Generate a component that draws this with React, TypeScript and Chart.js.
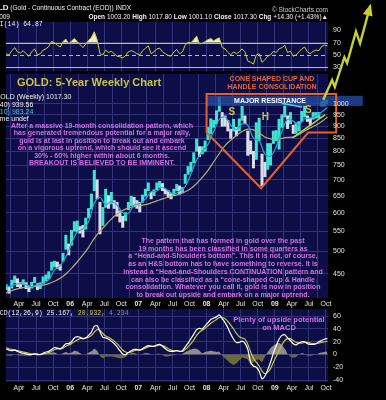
import React, { useEffect, useRef } from "react";
import { Chart, registerables } from "chart.js";

Chart.register(...registerables);

// ---------------- data (semi-monthly periods, first = 2nd half of Jan 2005) ----------------
const firstYear = 2005;

const priceLow = [
  418, 411, 421, 432, 424, 421, 428, 420, 414, 421, 432, 418, 420, 430, 436, 440, 458, 465, 462, 458, 478, 505, 492,
  515, 550, 548, 545, 535, 555, 585, 610, 665, 640, 543, 565, 615, 612, 625, 612, 590, 574, 560, 578, 608, 620, 620, 612,
  602, 630, 648, 665, 640, 650, 668, 675, 665, 655, 645, 640, 650, 665, 655, 660, 688, 718, 728, 758, 800, 780, 790, 800,
  845, 868, 895, 910, 965, 900, 900, 880, 850, 880, 860, 880, 925, 910, 785, 790, 740, 770, 840, 681, 710, 735, 750, 830,
  840, 808, 895, 940, 890, 910, 870, 870, 880, 920, 940, 920, 905, 930, 935, 935, 990, 990, 1001,
];
const priceHigh = [
  428, 423, 437, 446, 440, 432, 438, 432, 424, 433, 443, 430, 432, 444, 448, 455, 476, 478, 476, 470, 496, 540, 518,
  552, 575, 577, 562, 565, 585, 612, 655, 732, 700, 630, 615, 670, 650, 660, 635, 630, 605, 590, 600, 630, 648, 645, 635,
  630, 652, 670, 690, 660, 668, 690, 695, 688, 670, 665, 656, 670, 685, 680, 675, 718, 745, 760, 795, 848, 818, 818, 840,
  895, 932, 925, 968, 1033, 960, 945, 925, 888, 930, 895, 932, 988, 945, 880, 840, 800, 915, 935, 790, 760, 830, 830, 880,
  882, 930, 950, 1005, 945, 960, 905, 915, 920, 965, 990, 945, 935, 960, 960, 960, 1012, 1020, 1018,
];
const rsi14 = [
  52, 50, 57, 62, 55, 53, 57, 52, 48, 55, 60, 50, 52, 58, 60, 64, 72, 70, 66, 63, 72, 76, 68,
  73, 77, 72, 67, 62, 68, 74, 79, 88, 75, 52, 50, 58, 54, 56, 52, 48, 47, 45, 49, 55, 57, 55, 52,
  50, 57, 61, 65, 52, 55, 60, 61, 55, 52, 49, 48, 55, 59, 52, 55, 66, 71, 70, 75, 81, 68, 69, 72,
  75, 77, 73, 76, 78, 62, 60, 54, 50, 55, 52, 55, 60, 55, 40, 38, 35, 50, 52, 38, 42, 48, 50, 56,
  54, 60, 62, 66, 54, 56, 48, 50, 55, 60, 63, 55, 52, 56, 58, 57, 64, 66, 64.87,
];
const macdLine = [
  9, 7, 6, 7, 5, 3, 2, 1, 0, 0, 1, 0, 0, 2, 4, 5, 8, 11, 10, 9, 12, 17, 17,
  20, 26, 28, 27, 25, 26, 30, 35, 44, 45, 36, 27, 26, 24, 21, 17, 12, 6, 1, 0, 3, 6, 8, 8,
  7, 9, 12, 14, 13, 13, 15, 16, 13, 9, 6, 5, 5, 6, 5, 6, 12, 18, 25, 32, 39, 41, 40, 45,
  50, 55, 57, 59, 62, 56, 50, 42, 32, 24, 19, 19, 21, 18, 8, -12, -18, -20, -26, -38, -34, -24, -12, 2,
  14, 24, 30, 31, 26, 22, 17, 15, 18, 20, 20, 17, 16, 16, 17, 20, 22, 24, 25.167,
];
const macdSignal = [
  11, 9, 8, 7, 6, 5, 4, 3, 2, 1, 1, 1, 0, 1, 2, 3, 5, 8, 9, 9, 10, 13, 15,
  17, 20, 23, 25, 25, 26, 27, 30, 35, 39, 38, 33, 29, 27, 24, 21, 17, 12, 7, 4, 3, 4, 6, 7,
  7, 8, 10, 12, 13, 13, 14, 15, 14, 12, 9, 7, 6, 6, 5, 5, 8, 12, 17, 23, 30, 35, 38, 41,
  45, 49, 52, 55, 58, 58, 56, 52, 46, 40, 33, 28, 26, 24, 16, 4, -6, -12, -18, -26, -30, -28, -22, -12,
  -3, 6, 15, 22, 25, 25, 22, 19, 18, 18, 19, 19, 18, 17, 17, 18, 19, 20, 20.932,
];
const macdHist = [
  -2, -2, -2, 0, -1, -2, -2, -2, -2, -1, 0, -1, 0, 1, 2, 2, 3, 3, 1, 0, 2, 4, 2,
  3, 6, 5, 2, 0, 0, 3, 5, 9, 6, -2, -6, -3, -3, -3, -4, -5, -6, -6, -4, 0, 2, 2, 1,
  0, 1, 2, 2, 0, 0, 1, 1, -1, -3, -3, -2, -1, 0, 0, 1, 4, 6, 8, 9, 9, 6, 2, 4,
  5, 6, 5, 4, 4, -2, -6, -10, -14, -16, -14, -9, -5, -6, -8, -16, -12, -8, -8, -12, -4, 4, 10, 14,
  17, 18, 15, 9, 1, -3, -5, -4, 0, 2, 1, -2, -2, -1, 0, 2, 3, 4, 4.234,
];
// monthly moving averages, Jan 2005 .. Oct 2009
const ma10 = [
  432, 424, 428, 430, 428, 424, 428, 430, 438, 458, 468, 488,
  520, 548, 556, 575, 628, 645, 622, 632, 622, 600, 598, 622,
  626, 640, 662, 664, 676, 664, 655, 664, 678, 720, 768, 800,
  826, 878, 930, 940, 905, 886, 910, 905, 850, 842, 790, 782,
  818, 878, 930, 922, 905, 932, 935, 945, 962, 983.24,
];
const ma40 = [
  410, 414, 418, 421, 423, 424, 425, 427, 430, 435, 441, 450,
  462, 476, 492, 510, 532, 550, 566, 582, 596, 606, 613, 617,
  620, 623, 628, 634, 640, 645, 650, 655, 662, 672, 688, 708,
  732, 762, 792, 822, 843, 862, 878, 888, 885, 872, 856, 848,
  845, 850, 854, 856, 866, 880, 893, 905, 920, 939.56,
];

const monthTickLabels = ["Apr", "Jul", "Oct"];
const yearTickLabels = ["05", "06", "07", "08", "09"];
const priceTicks = [450, 500, 550, 600, 650, 700, 750, 800, 850, 900, 950, 1000];
const rsiTicks = [30, 50, 70, 90];
const rsiSolidLevels = [30, 70];
const rsiDashedLevels = [50];
const macdTicks = [-40, -20, 0, 20, 40, 60];

// annotations (dates in decimal years, prices in $)
const projectionDates = [2009.71, 2009.84, 2009.88, 2010.02, 2010.06, 2010.19, 2010.25, 2010.4];
const projectionPrices = [1019, 1118, 1082, 1244, 1210, 1404, 1328, 1585];
const cone = { left: 2008.0, right: 2009.9, top: 1047, floor: 874, apexDate: 2008.8, apexPrice: 673, riseEnd: 2009.49 };
const resistance = { from: 2008.0, to: 2010.29, top: 1038, bottom: 990, labelDate: 2008.93 };
const handleLine = { d0: 2009.1, p0: 1002, d1: 2009.4, p1: 985 };
const supportLine = { d0: 2009.26, p0: 852, d1: 2009.74, p1: 950 };
const shsLabels = [
  { text: "S", date: 2008.37, price: 959 },
  { text: "H", date: 2008.86, price: 937 },
  { text: "S", date: 2009.49, price: 972 },
];

// ---------------- layout / style ----------------
const FONT = "'Liberation Sans', Arial, sans-serif";
const MONO = "'Liberation Mono', 'DejaVu Sans Mono', monospace";
const X_MIN = 2005.06;
const X_MAX = 2009.78;
const AXIS_W = 58;
const PLOT_BG = "#0d0d47";
const GRID = "#33337a";
const LABEL = "#e2e2e2";
const YG = "#c6cf34";

const halfX = (i: number) => firstYear + (i + 1.5) / 24;
const monthX = (m: number) => firstYear + (m + 0.25) / 12;

function quarterTicks() {
  const t: { value: number; label: string; major: boolean }[] = [];
  yearTickLabels.forEach((yl, k) => {
    t.push({ value: firstYear + k, label: yl, major: true });
    monthTickLabels.forEach((ml, q) => t.push({ value: firstYear + k + (q + 1) / 4, label: ml, major: false }));
  });
  return t.filter((q) => q.value >= X_MIN && q.value <= X_MAX + 1e-9);
}
const QT = quarterTicks();
const findQ = (v: number) => QT.find((q) => Math.abs(q.value - v) < 1e-6);

function xAxis(showLabels: boolean, height: number) {
  return {
    type: "linear",
    min: X_MIN,
    max: X_MAX,
    offset: false,
    afterBuildTicks: (s: any) => {
      s.ticks = QT.map((q) => ({ value: q.value }));
    },
    afterFit: (s: any) => {
      s.height = height;
    },
    grid: { color: GRID, lineWidth: 1, drawTicks: false },
    border: { display: false },
    ticks: {
      display: showLabels,
      autoSkip: false,
      maxRotation: 0,
      padding: 2,
      color: LABEL,
      font: (c: any) => ({ family: FONT, size: 7, weight: findQ(c.tick ? c.tick.value : 0)?.major ? "bold" : "normal" }),
      callback: (v: any) => findQ(Number(v))?.label ?? "",
    },
  };
}

function yAxis(type: string, min: number, max: number, ticks: number[], showGrid: boolean) {
  return {
    type,
    position: "right",
    min,
    max,
    afterBuildTicks: (s: any) => {
      s.ticks = ticks.map((v) => ({ value: v }));
    },
    afterFit: (s: any) => {
      s.width = AXIS_W;
    },
    grid: { display: showGrid, color: GRID, drawTicks: false },
    border: { display: false },
    ticks: {
      autoSkip: false,
      color: LABEL,
      padding: 5,
      z: 1,
      font: { family: FONT, size: 7 },
      callback: (v: any) => String(v),
    },
  };
}

const bgPlugin = {
  id: "plotBg",
  beforeDraw(chart: any) {
    const { ctx, chartArea: a } = chart;
    ctx.save();
    ctx.fillStyle = PLOT_BG;
    ctx.fillRect(a.left, a.top, a.right - a.left, a.bottom - a.top);
    ctx.restore();
  },
};

const rsiLevelsPlugin = {
  id: "rsiLevels",
  beforeDatasetsDraw(chart: any) {
    const { ctx, chartArea: a, scales } = chart;
    const y = scales.y;
    ctx.save();
    ctx.strokeStyle = YG;
    ctx.lineWidth = 1.2;
    const line = (v: number, dash: number[]) => {
      const py = Math.round(y.getPixelForValue(v)) + 0.5;
      ctx.setLineDash(dash);
      ctx.beginPath();
      ctx.moveTo(a.left, py);
      ctx.lineTo(a.right, py);
      ctx.stroke();
    };
    rsiSolidLevels.forEach((v) => line(v, []));
    rsiDashedLevels.forEach((v) => line(v, [4, 3]));
    ctx.restore();
  },
};

const mainAnnotations = {
  id: "mainAnnotations",
  afterDatasetsDraw(chart: any) {
    const { ctx, scales } = chart;
    const X = (d: number) => scales.x.getPixelForValue(d);
    const Y = (p: number) => scales.y.getPixelForValue(p);
    ctx.save();
    // resistance band
    ctx.fillStyle = "rgba(34,72,160,0.82)";
    ctx.fillRect(X(resistance.from), Y(resistance.top), X(resistance.to) - X(resistance.from), Y(resistance.bottom) - Y(resistance.top));
    ctx.fillStyle = "#ffffff";
    ctx.font = `bold 7px ${FONT}`;
    ctx.textAlign = "center";
    ctx.textBaseline = "middle";
    ctx.fillText("MAJOR RESISTANCE", X(resistance.labelDate), (Y(resistance.top) + Y(resistance.bottom)) / 2 + 0.5);
    // cone + box
    ctx.strokeStyle = "#e4622a";
    ctx.lineWidth = 2;
    ctx.lineJoin = "miter";
    ctx.beginPath();
    ctx.moveTo(X(cone.left), Y(cone.floor));
    ctx.lineTo(X(cone.left), Y(cone.top));
    ctx.lineTo(X(cone.right), Y(cone.top));
    ctx.lineTo(X(cone.right), Y(cone.floor));
    ctx.lineTo(X(cone.riseEnd), Y(cone.floor));
    ctx.lineTo(X(cone.apexDate), Y(cone.apexPrice));
    ctx.lineTo(X(cone.left), Y(cone.floor));
    ctx.stroke();
    // handle lines
    ctx.lineWidth = 1.5;
    ctx.strokeStyle = "#46d6e6";
    ctx.beginPath();
    ctx.moveTo(X(handleLine.d0), Y(handleLine.p0));
    ctx.lineTo(X(handleLine.d1), Y(handleLine.p1));
    ctx.stroke();
    ctx.strokeStyle = YG;
    ctx.beginPath();
    ctx.moveTo(X(supportLine.d0), Y(supportLine.p0));
    ctx.lineTo(X(supportLine.d1), Y(supportLine.p1));
    ctx.stroke();
    // S H S
    ctx.fillStyle = "#c9c443";
    ctx.font = `bold 10px ${FONT}`;
    shsLabels.forEach((l) => ctx.fillText(l.text, X(l.date), Y(l.price)));
    ctx.restore();
  },
  afterDraw(chart: any) {
    const { ctx, scales } = chart;
    const pts = projectionDates.map((d, i) => [scales.x.getPixelForValue(d), scales.y.getPixelForValue(projectionPrices[i])]);
    ctx.save();
    ctx.strokeStyle = YG;
    ctx.fillStyle = YG;
    ctx.lineWidth = 2.4;
    ctx.lineJoin = "miter";
    ctx.beginPath();
    pts.forEach((p, i) => (i ? ctx.lineTo(p[0], p[1]) : ctx.moveTo(p[0], p[1])));
    ctx.stroke();
    const [x1, y1] = pts[pts.length - 1];
    const [x0, y0] = pts[pts.length - 2];
    const ang = Math.atan2(y1 - y0, x1 - x0);
    const L = 10, Wd = 5;
    ctx.beginPath();
    ctx.moveTo(x1 + Math.cos(ang) * 2, y1 + Math.sin(ang) * 2);
    ctx.lineTo(x1 - Math.cos(ang) * L + Math.sin(ang) * Wd, y1 - Math.sin(ang) * L - Math.cos(ang) * Wd);
    ctx.lineTo(x1 - Math.cos(ang) * L - Math.sin(ang) * Wd, y1 - Math.sin(ang) * L + Math.cos(ang) * Wd);
    ctx.closePath();
    ctx.fill();
    ctx.restore();
  },
};

const baseOptions = (padding: any) => ({
  responsive: false,
  maintainAspectRatio: false,
  animation: false,
  events: [],
  layout: { padding },
  plugins: { legend: { display: false }, tooltip: { enabled: false } },
});

function rsiConfig(): any {
  return {
    type: "line",
    data: {
      datasets: [
        {
          data: rsi14.map((v, i) => ({ x: halfX(i), y: v })),
          borderColor: YG,
          borderWidth: 1,
          pointRadius: 0,
          tension: 0,
          fill: { target: { value: 70 }, above: "#efeec6", below: "rgba(0,0,0,0)" },
        },
      ],
    },
    options: {
      ...baseOptions({ top: 22, bottom: 6, left: 6, right: 0 }),
      scales: { x: xAxis(false, 0), y: yAxis("linear", 24, 104, rsiTicks, false) },
    },
    plugins: [bgPlugin, rsiLevelsPlugin],
  };
}

function mainConfig(): any {
  const mids = priceLow.map((l, i) => (l + priceHigh[i]) / 2);
  const colors = mids.map((m, i) => (i === 0 || m >= mids[i - 1] ? "#3fe2d2" : "#dcdce8"));
  return {
    type: "bar",
    data: {
      datasets: [
        {
          type: "line",
          data: ma10.map((v, m) => ({ x: monthX(m), y: v })),
          borderColor: "#23a9d8",
          borderWidth: 1.2,
          pointRadius: 0,
          tension: 0.35,
        },
        {
          type: "line",
          data: ma40.map((v, m) => ({ x: monthX(m), y: v })),
          borderColor: "#b4ad74",
          borderWidth: 1.2,
          pointRadius: 0,
          tension: 0.35,
        },
        {
          type: "bar",
          data: priceLow.map((l, i) => ({ x: halfX(i), y: [l, priceHigh[i]] })),
          backgroundColor: colors,
          borderWidth: 0,
          barThickness: 2.4,
          grouped: false,
        },
      ],
    },
    options: {
      ...baseOptions({ top: 74, bottom: 0, left: 6, right: 0 }),
      scales: { x: xAxis(true, 12), y: yAxis("logarithmic", 402, 1150, priceTicks, true) },
    },
    plugins: [bgPlugin, mainAnnotations],
  };
}

function macdConfig(): any {
  return {
    type: "line",
    data: {
      datasets: [
        { data: macdLine.map((v, i) => ({ x: halfX(i), y: v })), borderColor: "#ffffff", borderWidth: 1.2, pointRadius: 0, tension: 0.3 },
        { data: macdSignal.map((v, i) => ({ x: halfX(i), y: v })), borderColor: "#bfc83a", borderWidth: 1.2, pointRadius: 0, tension: 0.3 },
        {
          data: macdHist.map((v, i) => ({ x: halfX(i), y: v })),
          borderColor: "rgba(0,0,0,0)",
          borderWidth: 0,
          pointRadius: 0,
          tension: 0.2,
          fill: { target: { value: 0 }, above: "#8e8e8e", below: "#6c6a3c" },
        },
      ],
    },
    options: {
      ...baseOptions({ top: 9, bottom: 0, left: 6, right: 0 }),
      scales: { x: xAxis(true, 18), y: yAxis("linear", -43, 71, macdTicks, true) },
    },
    plugins: [bgPlugin],
  };
}

const abs = (o: any): React.CSSProperties => ({ position: "absolute", whiteSpace: "nowrap", pointerEvents: "none", ...o });

export default function App() {
  const rsiRef = useRef<HTMLCanvasElement>(null);
  const mainRef = useRef<HTMLCanvasElement>(null);
  const macdRef = useRef<HTMLCanvasElement>(null);

  useEffect(() => {
    document.body.style.margin = "0";
    document.body.style.background = "#000";
    const charts = [
      new Chart(rsiRef.current as HTMLCanvasElement, rsiConfig()),
      new Chart(mainRef.current as HTMLCanvasElement, mainConfig()),
      new Chart(macdRef.current as HTMLCanvasElement, macdConfig()),
    ];
    return () => charts.forEach((c) => c.destroy());
  }, []);

  const magenta = "#d46fe6";
  const para1 = [
    "After a massive 19-month consolidation pattern, which",
    "has generated tremendous potential for a major rally,",
    "gold is at last in position to break out and embark",
    "on a vigorous uptrend, which should see it ascend",
    "30% - 60% higher within about 6 months.",
    "BREAKOUT IS BELIEVED TO BE IMMINENT.",
  ];
  const para2 = [
    "The pattern that has formed in gold over the past",
    "19 months has been classified in some quarters as",
    "a \u201cHead-and-Shoulders bottom\u201d. This it is not, of course,",
    "as an H&S bottom has to have something to reverse. It is",
    "instead a \u201cHead-and-Shoulders CONTINUATION pattern and",
    "can also be classified as a \u201ccone-shaped Cup & Handle",
    "consolidation. Whatever you call it, gold is now in position",
    "to break out upside and embark on a major uptrend.",
  ];

  return (
    <div style={{ position: "relative", width: 386, height: 400, background: "#000", overflow: "hidden", fontFamily: FONT }}>
      <canvas ref={rsiRef} width={386} height={80} style={{ position: "absolute", left: 0, top: 0 }} />
      <canvas ref={macdRef} width={386} height={100} style={{ position: "absolute", left: 0, top: 300 }} />
      <canvas ref={mainRef} width={386} height={310} style={{ position: "absolute", left: 0, top: 0 }} />

      {/* header */}
      <div style={abs({ left: -19, top: 3, fontSize: 6.5, lineHeight: "10px", color: "#f0f0f0" })}>
        <b style={{ fontSize: 8 }}>$GOLD</b> (Gold - Continuous Contract (EOD)) INDX
      </div>
      <div style={abs({ right: 58, top: 5, fontSize: 6.5, lineHeight: "10px", color: "#cfcfcf" })}>© StockCharts.com</div>
      <div style={abs({ right: 376, top: 12, fontSize: 6.5, lineHeight: "10px", color: "#f0f0f0" })}>2-Oct-2009</div>
      <div style={abs({ right: 58, top: 12, fontSize: 6.5, lineHeight: "10px", color: "#f0f0f0" })}>
        <b>Open</b> 1003.20 <b>High</b> 1017.80 <b>Low</b> 1001.10 <b>Close</b> 1017.30 <b>Chg</b> +14.30 (+1.43%)▲
      </div>
      <div style={abs({ left: -8, top: 20, fontSize: 6.5, lineHeight: "10px", color: "#f0f0f0", fontFamily: MONO })}>RSI(14) 64.87</div>

      {/* main panel text */}
      <div style={abs({ left: 17, top: 75.5, fontSize: 11, lineHeight: "13px", fontWeight: "bold", color: "#c9c443" })}>
        GOLD: 5-Year Weekly Chart
      </div>
      <div style={abs({ left: -9, top: 93, fontSize: 7, lineHeight: "7px", color: "#f0f0f0" })}>$GOLD (Weekly) 1017.30</div>
      <div style={abs({ left: -13, top: 101, fontSize: 7, lineHeight: "7px", color: "#f0f0f0" })}>MA(40) 939.56</div>
      <div style={abs({ left: -13, top: 108, fontSize: 7, lineHeight: "7px", color: "#3fcde6" })}>MA(10) 983.24</div>
      <div style={abs({ left: -14, top: 114.5, fontSize: 7, lineHeight: "7px", color: "#f0f0f0" })}>Volume undef</div>

      <div style={abs({ left: 2, width: 200, top: 122, fontSize: 7, lineHeight: "7.4px", fontWeight: "bold", color: magenta, textAlign: "center" })}>
        {para1.map((l, i) => (
          <div key={i}>{l}</div>
        ))}
      </div>
      <div style={abs({ left: 103, width: 240, top: 237, fontSize: 7, lineHeight: "7.7px", fontWeight: "bold", color: magenta, textAlign: "center" })}>
        {para2.map((l, i) => (
          <div key={i}>{l}</div>
        ))}
      </div>
      <div style={abs({ left: 172, width: 200, top: 75, fontSize: 7, lineHeight: "7.5px", fontWeight: "bold", color: "#e8652a", textAlign: "center" })}>
        <div>CONE SHAPED CUP AND</div>
        <div>HANDLE CONSOLIDATION</div>
      </div>

      {/* MACD */}
      <div style={abs({ left: -8, top: 309, fontSize: 6.5, lineHeight: "10px", color: "#f0f0f0", fontFamily: MONO })}>
        MACD(12,26,9) 25.167, <span style={{ color: "#c6cf34" }}>20.932,</span> <span style={{ color: "#8e8e8e" }}>4.234</span>
      </div>
      <div style={abs({ left: 179, width: 200, top: 316, fontSize: 7.5, lineHeight: "7.6px", fontWeight: "bold", color: magenta, textAlign: "center" })}>
        <div>Plenty of upside potential</div>
        <div>on MACD</div>
      </div>
    </div>
  );
}
